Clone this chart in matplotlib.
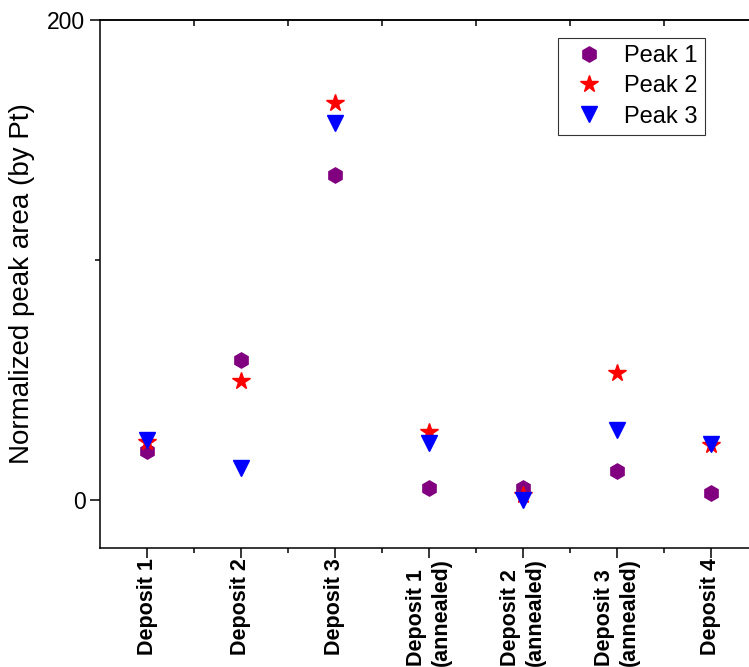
import numpy as np
import matplotlib
matplotlib.use("Agg")
import matplotlib.pyplot as plt

plt.rcParams['font.family'] = ['Liberation Sans', 'DejaVu Sans']

# Data
samples = ['Deposit 1', 'Deposit 2', 'Deposit 3', 'Deposit 1\n(annealed)',
           'Deposit 2\n(annealed)', 'Deposit 3\n(annealed)', 'Deposit 4']
peak1 = [20.5, 58.3, 135.5, 5.0, 5.0, 12.0, 3.0]
peak2 = [24.0, 49.5, 165.5, 28.3, 2.0, 53.0, 23.0]
peak3 = [25.0, 13.2, 157.0, 23.8, 0.0, 29.0, 23.5]

x = np.arange(1, len(samples) + 1)

fig = plt.figure(figsize=(7.49, 6.67), dpi=100)
ax = fig.add_axes([100 / 749, 119 / 667, 658 / 749, 528 / 667])

ax.plot(x, peak1, linestyle='none', marker='h', markersize=11, color='purple', label='Peak 1')
ax.plot(x, peak2, linestyle='none', marker='*', markersize=13, color='red', label='Peak 2')
ax.plot(x, peak3, linestyle='none', marker='v', markersize=11, color='blue', label='Peak 3')

ax.set_xlim(0.5, 7.5)
ax.set_ylim(-20, 200)
ax.set_yticks([0, 200])
ax.set_yticks([100], minor=True)
ax.set_xticks(x)
ax.set_xticks(np.arange(1.5, 8, 1), minor=True)
ax.set_xticklabels(samples, rotation=90, fontsize=15.5, fontweight='bold',
                   multialignment='left')
ax.tick_params(axis='y', labelsize=16.5)
ax.tick_params(which='major', direction='out', length=7, width=1.1)
ax.tick_params(which='minor', direction='out', length=3.5, width=1.1)
ax.tick_params(axis='x', which='major', pad=0.5)

for s in ['left', 'bottom', 'top']:
    ax.spines[s].set_linewidth(1.1)
ax.spines['right'].set_visible(False)

top = ax.secondary_xaxis('top')
top.set_xticks(np.arange(1.5, 7, 1))
top.set_xticklabels([])
top.tick_params(direction='in', length=4, width=1.1)
top.spines['top'].set_linewidth(1.1)

ax.set_ylabel('Normalized peak area (by Pt)', fontsize=20, labelpad=9)

leg = ax.legend(loc='upper right', bbox_to_anchor=(0.919, 0.966), fontsize=17,
                frameon=True, fancybox=False, edgecolor='black', handlelength=2.0,
                handletextpad=0.5, borderpad=0.3, labelspacing=0.35, borderaxespad=0)
leg.get_frame().set_linewidth(0.8)

fig.savefig('out.png', dpi=100)
